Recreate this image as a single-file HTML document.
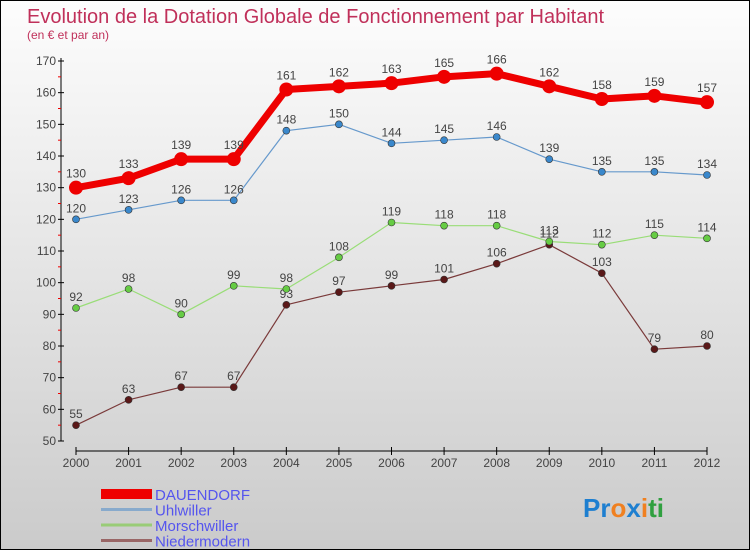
<!DOCTYPE html>
<html><head><meta charset="utf-8"><style>
body{margin:0;}
#c{width:750px;height:550px;box-sizing:border-box;border:1px solid #000;background:linear-gradient(#fdfdfd,#cbcbcb);position:relative;font-family:"Liberation Sans",sans-serif;}
</style></head><body>
<div id="c">
<svg id="s" width="748" height="548" style="position:absolute;left:0;top:0" font-family="Liberation Sans, sans-serif">
<text x="26" y="22" font-size="20" fill="#c0305a">Evolution de la Dotation Globale de Fonctionnement par Habitant</text>
<text x="26" y="38" font-size="12" fill="#c0305a">(en € et par an)</text>
<g id="axes"></g><g id="series"></g><g id="legend"></g>
<text x="582" y="516" font-size="26" font-weight="bold"><tspan fill="#1e7fd0">Pr</tspan><tspan fill="#f08020">o</tspan><tspan fill="#1e7fd0">x</tspan><tspan fill="#f08020">i</tspan><tspan fill="#30a040">ti</tspan></text>
</svg>
</div>
<script>
const years=[2000,2001,2002,2003,2004,2005,2006,2007,2008,2009,2010,2011,2012];
const yTicks=[50,60,70,80,90,100,110,120,130,140,150,160,170];
const dauendorf=[130,133,139,139,161,162,163,165,166,162,158,159,157];
const uhlwiller=[120,123,126,126,148,150,144,145,146,139,135,135,134];
const morschwiller=[92,98,90,99,98,108,119,118,118,113,112,115,114];
const niedermodern=[55,63,67,67,93,97,99,101,106,112,103,79,80];
const names=["DAUENDORF","Uhlwiller","Morschwiller","Niedermodern"];
const NS="http://www.w3.org/2000/svg";
const X=i=>75+i*(706-75)/(years.length-1);
const Y=v=>440-(v-50)*(440-60)/120;
function mk(t,a,p){const e=document.createElementNS(NS,t);for(const k in a)e.setAttribute(k,a[k]);p.appendChild(e);return e;}
const ax=document.getElementById('axes');
let yl=mk('line',{x1:60,y1:57,x2:60,y2:440,stroke:'#000'},ax);


yTicks.forEach(v=>{mk('line',{x1:57,y1:Y(v),x2:63,y2:Y(v),stroke:'#000'},ax);
 if(v<170)mk('line',{x1:57,y1:Y(v+5),x2:60,y2:Y(v+5),stroke:'#e00'},ax);
 const t=mk('text',{x:55,y:Y(v)+4,'text-anchor':'end','font-size':12,fill:'#444'},ax);t.textContent=v;
 
 });
let xl=mk('line',{x1:75,y1:450,x2:706,y2:450,stroke:'#000'},ax);


years.forEach((y,i)=>{mk('line',{x1:X(i),y1:446,x2:X(i),y2:454,stroke:'#000'},ax);
 const t=mk('text',{x:X(i),y:466,'text-anchor':'middle','font-size':12,fill:'#444'},ax);t.textContent=y;
 
 });
const sg=document.getElementById('series');
const defs=[[niedermodern,'#7a3a3a','#5a1818',1.2,3.5],[morschwiller,'#99dd77','#66cc44',1.2,3.5],[uhlwiller,'#6699cc','#3a88cc',1.2,3.5],[dauendorf,'#ee0000','#ee0000',7,7]];
const sn=['niedermodern','morschwiller','uhlwiller','dauendorf'];
defs.forEach((d,k)=>{const [vals,lc,pc,w,r]=d;
 const g=mk('g',{},sg);
 
 
 mk('polyline',{points:vals.map((v,i)=>X(i)+','+Y(v)).join(' '),fill:'none',stroke:lc,'stroke-width':w,'stroke-linejoin':'round'},g);
 vals.forEach((v,i)=>{const c=mk('circle',{cx:X(i),cy:Y(v),r:r,fill:pc,stroke:'#333','stroke-width':k==3?0:0.6},g);
  
  
  const t=mk('text',{x:X(i),y:Y(v)-(k==3?10:7),'text-anchor':'middle','font-size':12,fill:'#444'},g);t.textContent=v;
  
  });});
const lg=document.getElementById('legend');
const lcol=['#ee0000','#88aacc','#99cc77','#996666'];
names.forEach((n,i)=>{const y=493+i*15.5;
 const g=mk('g',{},lg);
 
 
 mk('rect',{x:100,y:i==0?y-5:y-1.5,width:51,height:i==0?10:3,fill:lcol[i]},g);
 const t=mk('text',{x:154,y:y+6,'font-size':15,fill:'#5555ee'},g);t.textContent=n;});
</script>
</body></html>
